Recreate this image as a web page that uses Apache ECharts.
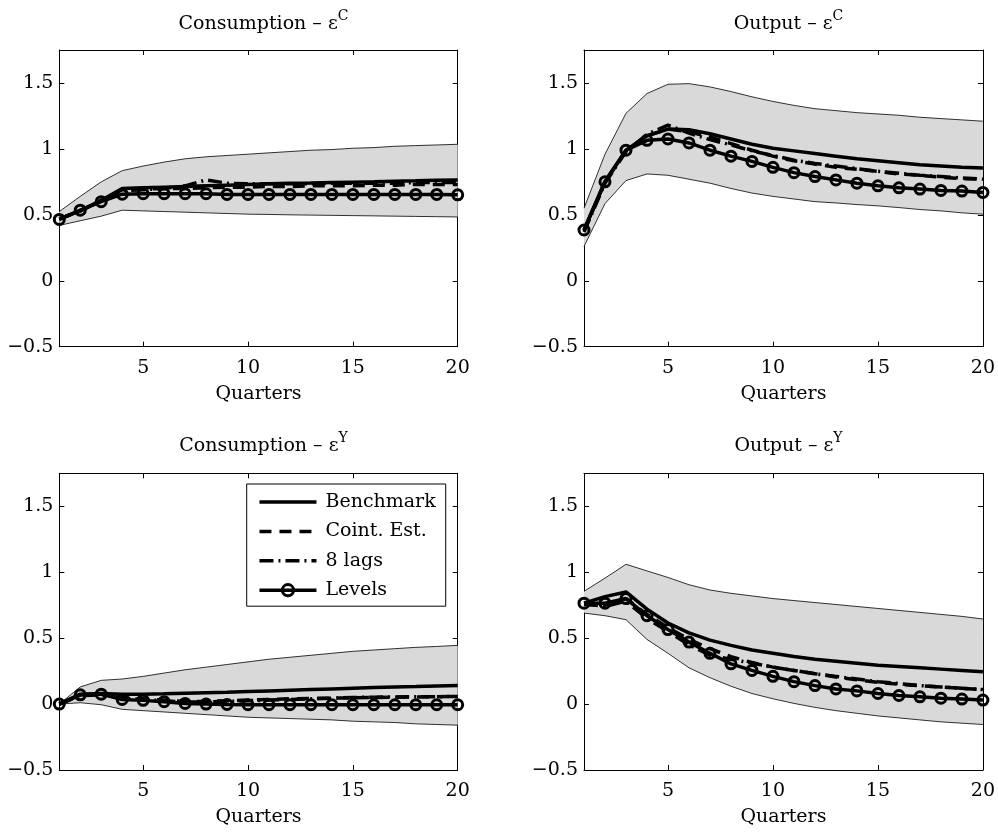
<!DOCTYPE html>
<html>
<head>
<meta charset="utf-8">
<script src="https://cdn.jsdelivr.net/npm/echarts@6/dist/echarts.min.js"></script>
<style>
  html, body { margin: 0; padding: 0; background: #fff; }
  #chart { width: 998px; height: 834px; }
</style>
</head>
<body>
<div id="chart"></div>
<script>
// Impulse responses over 20 quarters with shaded confidence bands.
const quarters = [1, 2, 3, 4, 5, 6, 7, 8, 9, 10, 11, 12, 13, 14, 15, 16, 17, 18, 19, 20];
const xTickLabels = [5, 10, 15, 20];
const yTickValues = [-0.5, 0, 0.5, 1, 1.5];
const panelTitles = ['Consumption – ε', 'Output – ε', 'Consumption – ε', 'Output – ε'];
const shockLabels = ['C', 'C', 'Y', 'Y'];
const seriesNames = ['Benchmark', 'Coint. Est.', '8 lags', 'Levels'];

// Consumption response to the consumption shock
const consC_upper = [0.525, 0.64, 0.75, 0.835, 0.87, 0.90, 0.925, 0.94, 0.95, 0.96, 0.97, 0.98, 0.99, 0.995, 1.005, 1.01, 1.02, 1.025, 1.03, 1.035];
const consC_lower = [0.42, 0.455, 0.49, 0.535, 0.53, 0.525, 0.52, 0.515, 0.51, 0.505, 0.503, 0.50, 0.498, 0.496, 0.494, 0.492, 0.49, 0.488, 0.486, 0.484];
const consC_bench = [0.47, 0.53, 0.61, 0.70, 0.705, 0.71, 0.715, 0.72, 0.725, 0.73, 0.735, 0.74, 0.742, 0.745, 0.748, 0.75, 0.755, 0.758, 0.762, 0.765];
const consC_coint = [0.47, 0.53, 0.61, 0.69, 0.695, 0.70, 0.70, 0.705, 0.71, 0.71, 0.715, 0.715, 0.72, 0.72, 0.72, 0.725, 0.725, 0.73, 0.73, 0.73];
const consC_lags = [0.47, 0.53, 0.61, 0.685, 0.69, 0.70, 0.72, 0.765, 0.74, 0.735, 0.735, 0.735, 0.735, 0.74, 0.74, 0.74, 0.74, 0.745, 0.745, 0.745];
const consC_levels = [0.465, 0.535, 0.60, 0.657, 0.66, 0.66, 0.66, 0.66, 0.655, 0.655, 0.655, 0.655, 0.655, 0.655, 0.655, 0.655, 0.655, 0.655, 0.655, 0.652];

// Output response to the consumption shock
const outC_upper = [0.55, 0.96, 1.27, 1.42, 1.49, 1.495, 1.47, 1.435, 1.395, 1.36, 1.33, 1.305, 1.29, 1.275, 1.265, 1.255, 1.24, 1.23, 1.22, 1.21];
const outC_lower = [0.26, 0.585, 0.76, 0.81, 0.80, 0.77, 0.74, 0.70, 0.665, 0.64, 0.62, 0.60, 0.59, 0.578, 0.568, 0.555, 0.54, 0.53, 0.515, 0.505];
const outC_bench = [0.385, 0.755, 0.99, 1.10, 1.15, 1.145, 1.115, 1.075, 1.035, 1.005, 0.985, 0.965, 0.945, 0.925, 0.91, 0.895, 0.88, 0.87, 0.86, 0.855];
const outC_coint = [0.38, 0.75, 0.985, 1.10, 1.15, 1.13, 1.09, 1.04, 0.99, 0.945, 0.91, 0.885, 0.86, 0.845, 0.83, 0.81, 0.80, 0.785, 0.775, 0.77];
const outC_lags = [0.37, 0.74, 0.98, 1.11, 1.18, 1.12, 1.07, 1.03, 0.985, 0.95, 0.915, 0.89, 0.87, 0.85, 0.83, 0.815, 0.80, 0.79, 0.78, 0.77];
const outC_levels = [0.385, 0.75, 0.99, 1.065, 1.075, 1.045, 0.99, 0.945, 0.905, 0.86, 0.82, 0.79, 0.765, 0.74, 0.72, 0.705, 0.695, 0.685, 0.68, 0.67];

// Consumption response to the output shock
const consY_upper = [0.0, 0.13, 0.18, 0.19, 0.21, 0.235, 0.26, 0.28, 0.30, 0.32, 0.34, 0.355, 0.37, 0.385, 0.40, 0.41, 0.42, 0.43, 0.437, 0.445];
const consY_lower = [0.0, 0.01, -0.005, -0.04, -0.05, -0.06, -0.07, -0.08, -0.09, -0.10, -0.105, -0.11, -0.115, -0.12, -0.13, -0.135, -0.14, -0.15, -0.155, -0.16];
const consY_bench = [0.0, 0.075, 0.08, 0.075, 0.075, 0.078, 0.082, 0.086, 0.09, 0.095, 0.10, 0.105, 0.11, 0.115, 0.12, 0.125, 0.13, 0.133, 0.137, 0.14];
const consY_coint = [0.0, 0.07, 0.075, 0.05, 0.04, 0.03, 0.02, 0.02, 0.025, 0.03, 0.035, 0.04, 0.042, 0.045, 0.047, 0.05, 0.052, 0.054, 0.056, 0.058];
const consY_lags = [0.0, 0.065, 0.07, 0.045, 0.035, 0.025, 0.015, 0.015, 0.02, 0.025, 0.03, 0.035, 0.04, 0.045, 0.05, 0.052, 0.054, 0.055, 0.056, 0.057];
const consY_levels = [0.0, 0.07, 0.075, 0.035, 0.028, 0.018, 0.005, 0.0, -0.003, -0.005, -0.005, -0.005, -0.005, -0.005, -0.005, -0.005, -0.005, -0.005, -0.005, -0.005];

// Output response to the output shock
const outY_upper = [0.855, 0.955, 1.06, 1.01, 0.96, 0.905, 0.865, 0.84, 0.82, 0.80, 0.785, 0.77, 0.755, 0.74, 0.725, 0.71, 0.695, 0.68, 0.665, 0.645];
const outY_lower = [0.69, 0.67, 0.64, 0.49, 0.385, 0.275, 0.20, 0.135, 0.08, 0.04, 0.005, -0.025, -0.05, -0.07, -0.09, -0.105, -0.12, -0.135, -0.145, -0.155];
const outY_bench = [0.765, 0.815, 0.85, 0.72, 0.615, 0.54, 0.485, 0.445, 0.41, 0.385, 0.36, 0.34, 0.325, 0.31, 0.295, 0.285, 0.275, 0.265, 0.255, 0.245];
const outY_coint = [0.755, 0.75, 0.80, 0.68, 0.58, 0.49, 0.42, 0.36, 0.315, 0.28, 0.255, 0.23, 0.205, 0.185, 0.165, 0.15, 0.14, 0.13, 0.12, 0.11];
const outY_lags = [0.76, 0.74, 0.78, 0.65, 0.55, 0.45, 0.37, 0.34, 0.31, 0.28, 0.255, 0.23, 0.21, 0.19, 0.17, 0.155, 0.14, 0.13, 0.12, 0.11];
const outY_levels = [0.765, 0.765, 0.80, 0.67, 0.565, 0.47, 0.385, 0.305, 0.255, 0.21, 0.17, 0.14, 0.115, 0.10, 0.08, 0.065, 0.055, 0.045, 0.038, 0.03];

const panels = [
  { upper: consC_upper, lower: consC_lower, lines: [consC_bench, consC_coint, consC_lags, consC_levels] },
  { upper: outC_upper, lower: outC_lower, lines: [outC_bench, outC_coint, outC_lags, outC_levels] },
  { upper: consY_upper, lower: consY_lower, lines: [consY_bench, consY_coint, consY_lags, consY_levels] },
  { upper: outY_upper, lower: outY_lower, lines: [outY_bench, outY_coint, outY_lags, outY_levels] }
];

// Layout of the 2x2 panel grid (pixels)
const gridBoxes = [
  { left: 59.3, top: 50, width: 398.4, height: 296.7 },
  { left: 584, top: 50, width: 399, height: 296.7 },
  { left: 59.3, top: 473.3, width: 398.4, height: 296.7 },
  { left: 584, top: 473.3, width: 399, height: 296.7 }
];
const titleTops = [4, 4, 426, 426];

const FONT = 'DejaVu Serif';
const BLACK = '#000';
const showXTick = (idx, val) => xTickLabels.indexOf(Number(val)) >= 0;
const fmtY = v => (v < 0 ? '\u2212' + String(-v) : String(v));

const lineStyles = [
  { color: BLACK, width: 3.5, type: 'solid' },
  { color: BLACK, width: 3.5, type: [12, 8] },
  { color: BLACK, width: 3.5, type: [14, 5, 2, 5] },
  { color: BLACK, width: 3.5, type: 'solid' }
];

const xAxes = [], yAxes = [], series = [], titles = [];
gridBoxes.forEach((g, i) => {
  const axisLine = { show: true, onZero: false, lineStyle: { color: BLACK, width: 1 } };
  const xTick = { show: true, inside: true, length: 5, interval: showXTick, lineStyle: { color: BLACK, width: 1 } };
  const yTick = { show: true, inside: true, length: 5, customValues: yTickValues, lineStyle: { color: BLACK, width: 1 } };
  xAxes.push({
    gridIndex: i, type: 'category', data: quarters, boundaryGap: false, position: 'bottom',
    axisLine, axisTick: xTick,
    axisLabel: { interval: showXTick, margin: 12, color: BLACK, fontFamily: FONT, fontSize: 19 },
    splitLine: { show: false },
    name: 'Quarters', nameLocation: 'middle', nameGap: 38,
    nameTextStyle: { color: BLACK, fontFamily: FONT, fontSize: 19 }
  });
  xAxes.push({
    gridIndex: i, type: 'category', data: quarters, boundaryGap: false, position: 'top',
    axisLine, axisTick: xTick, axisLabel: { show: false }, splitLine: { show: false }
  });
  yAxes.push({
    gridIndex: i, type: 'value', min: -0.5, max: 1.75, interval: 0.5, position: 'left',
    axisLine, axisTick: yTick,
    axisLabel: { customValues: yTickValues, formatter: fmtY, margin: 6, color: BLACK, fontFamily: FONT, fontSize: 19 },
    splitLine: { show: false }
  });
  yAxes.push({
    gridIndex: i, type: 'value', min: -0.5, max: 1.75, interval: 0.5, position: 'right',
    axisLine, axisTick: yTick, axisLabel: { show: false }, splitLine: { show: false }
  });

  const p = panels[i];
  const ax = { xAxisIndex: 2 * i, yAxisIndex: 2 * i };
  // shaded band: lower bound plus stacked width up to the upper bound
  series.push(Object.assign({
    type: 'line', name: 'band-lower-' + i, data: p.lower, stack: 'band' + i, stackStrategy: 'all',
    symbol: 'none', silent: true, lineStyle: { color: BLACK, width: 0.8 }
  }, ax));
  series.push(Object.assign({
    type: 'line', name: 'band-upper-' + i, data: p.upper.map((u, k) => u - p.lower[k]),
    stack: 'band' + i, stackStrategy: 'all', symbol: 'none', silent: true,
    lineStyle: { color: BLACK, width: 0.8 }, areaStyle: { color: '#d9d9d9', opacity: 1 }
  }, ax));
  seriesNames.forEach((name, k) => {
    const s = Object.assign({
      type: 'line', name, data: p.lines[k], lineStyle: lineStyles[k], silent: true
    }, ax);
    if (k === 3) {
      s.symbol = 'circle';
      s.symbolSize = 10;
      s.showAllSymbol = true;
      s.itemStyle = { color: 'transparent', borderColor: BLACK, borderWidth: 3 };
    } else {
      s.symbol = 'none';
    }
    series.push(s);
  });

  titles.push({
    text: panelTitles[i] + '{sup|' + shockLabels[i] + '}',
    left: g.left + g.width / 2, top: titleTops[i], textAlign: 'center',
    textStyle: {
      fontFamily: FONT, fontSize: 19, fontWeight: 'normal', color: BLACK, lineHeight: 30,
      rich: { sup: { fontFamily: FONT, fontSize: 14, lineHeight: 14, verticalAlign: 'top', color: BLACK } }
    }
  });
});

const chart = echarts.init(document.getElementById('chart'), null, { renderer: 'canvas' });
chart.setOption({
  animation: false,
  backgroundColor: '#fff',
  title: titles,
  grid: gridBoxes.map(g => Object.assign({ containLabel: false }, g)),
  xAxis: xAxes,
  yAxis: yAxes,
  legend: {
    orient: 'vertical', left: 246.7, top: 484, padding: [7, 10, 5, 11],
    itemWidth: 57, itemHeight: 14, itemGap: 7.4,
    borderColor: BLACK, borderWidth: 1, borderRadius: 0, backgroundColor: '#fff',
    selectedMode: false,
    lineStyle: { width: 3.5 },
    textStyle: { fontFamily: FONT, fontSize: 19, color: BLACK, lineHeight: 22, padding: [0, 0, 0, 4] },
    data: [
      { name: 'Benchmark', itemStyle: { opacity: 0 } },
      { name: 'Coint. Est.', itemStyle: { opacity: 0 } },
      { name: '8 lags', itemStyle: { opacity: 0 } },
      { name: 'Levels', itemStyle: { borderWidth: 3 } }
    ]
  },
  series
});
</script>
</body>
</html>
